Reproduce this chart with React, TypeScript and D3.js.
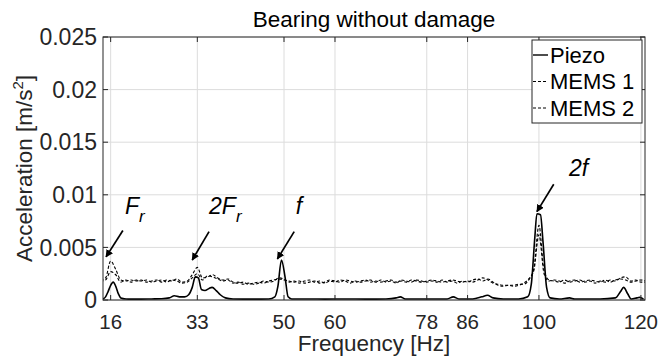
import React from "react";
import * as d3 from "d3";

const W = 662;
const H = 362;
const margin = { top: 37, right: 17, bottom: 62, left: 103 };

const xTicks = [16, 33, 50, 60, 78, 86, 100, 120];
const yTicks = [0, 0.005, 0.01, 0.015, 0.02, 0.025];
const yTickLabels = ["0", "0.005", "0.01", "0.015", "0.02", "0.025"];

// Piezo spectrum: [frequency Hz, acceleration m/s^2]
const piezo: [number, number][] = [
  [14.5, 0.0001], [15.0, 0.0003], [15.5, 0.0008], [16.0, 0.0014], [16.5, 0.0017],
  [17.0, 0.0013], [17.5, 0.0006], [18.0, 0.0002], [19, 0.0001], [20, 0.00008],
  [22, 0.00008], [24, 0.0001], [26, 0.00012], [27.5, 0.0002], [28.5, 0.0004],
  [29.5, 0.0003], [30.5, 0.0003], [31.3, 0.0005], [32.0, 0.0012], [32.6, 0.0022],
  [33.2, 0.0021], [33.8, 0.001], [34.5, 0.0009], [35.3, 0.0011], [35.9, 0.0012],
  [36.7, 0.0009], [37.5, 0.0005], [38.5, 0.0002], [40, 0.0001], [44, 0.00008],
  [47, 0.0001], [48.2, 0.0003], [48.8, 0.0013], [49.5, 0.0038], [50.2, 0.0022],
  [50.8, 0.0003], [51.5, 0.0001], [55, 0.0001], [58, 0.00008], [62, 0.0001],
  [66, 0.00008], [70, 0.0001], [72, 0.0002], [72.8, 0.0003], [73.8, 0.0001],
  [78, 0.0001], [82, 0.0001], [83.2, 0.0003], [84.3, 0.0001], [87, 0.0001],
  [88.8, 0.0003], [89.9, 0.00045], [91, 0.0002], [93, 0.0001], [96, 0.0001],
  [97.8, 0.0003], [98.5, 0.0015], [99.2, 0.006], [99.6, 0.0082], [100.3, 0.0081],
  [100.8, 0.0055], [101.5, 0.0012], [102.2, 0.0002], [104, 0.0001], [106, 0.0002],
  [107, 0.0001], [112, 0.0001], [115, 0.0002], [116, 0.0008], [116.6, 0.0012],
  [117.4, 0.0006], [118.1, 0.0001], [119.2, 0.0002], [119.7, 0.00025], [120.5, 0.0001],
];

// MEMS spectra, one value per Hz starting at 14 Hz
const memsStart = 14;
const mems1 = [
  0.0019, 0.0021, 0.0037, 0.0029, 0.0019, 0.0018, 0.0019, 0.0018, 0.0019, 0.0017,
  0.0018, 0.0019, 0.0017, 0.0019, 0.0018, 0.002, 0.0017, 0.0018, 0.0024, 0.0031,
  0.0021, 0.0022, 0.0024, 0.0021, 0.0019, 0.002, 0.0017, 0.0016, 0.0017, 0.0015,
  0.0016, 0.0017, 0.0016, 0.0018, 0.0019, 0.002, 0.0019, 0.0018, 0.0017, 0.0018,
  0.0016, 0.0017, 0.0018, 0.0016, 0.0017, 0.0019, 0.0018, 0.0017, 0.0019, 0.0018,
  0.0017, 0.0018, 0.0019, 0.0017, 0.0018, 0.0017, 0.0018, 0.0019, 0.0017, 0.0018,
  0.0017, 0.0019, 0.0018, 0.0017, 0.0018, 0.0019, 0.0018, 0.0017, 0.0018, 0.0019,
  0.0018, 0.0017, 0.0018, 0.0017, 0.0019, 0.0021, 0.0019, 0.0016, 0.0015, 0.0014,
  0.0014, 0.0014, 0.0015, 0.0015, 0.0019, 0.003, 0.0071, 0.0028, 0.0019, 0.0018,
  0.0017, 0.0019, 0.0017, 0.0018, 0.0019, 0.0017, 0.0018, 0.0016, 0.0018, 0.0017,
  0.0019, 0.0018, 0.0021, 0.0022, 0.0018, 0.0019, 0.0017, 0.0017,
];
const mems2 = [
  0.0018, 0.0019, 0.0027, 0.0024, 0.0017, 0.0019, 0.0017, 0.0019, 0.0018, 0.0019,
  0.0017, 0.0018, 0.0019, 0.0017, 0.0019, 0.0018, 0.0016, 0.0017, 0.0021, 0.0025,
  0.0019, 0.0023, 0.0022, 0.002, 0.0018, 0.0019, 0.0016, 0.0017, 0.0015, 0.0016,
  0.0015, 0.0016, 0.0018, 0.0017, 0.0018, 0.0021, 0.002, 0.0017, 0.0018, 0.0016,
  0.0018, 0.0019, 0.0017, 0.0018, 0.0016, 0.0018, 0.0017, 0.0019, 0.0018, 0.0016,
  0.0018, 0.0017, 0.0018, 0.0019, 0.0017, 0.0019, 0.0017, 0.0018, 0.0016, 0.0019,
  0.0018, 0.0017, 0.0019, 0.0018, 0.0017, 0.0018, 0.0017, 0.0019, 0.0017, 0.0018,
  0.0016, 0.0018, 0.0017, 0.0019, 0.002, 0.0018, 0.002, 0.0017, 0.0014, 0.0013,
  0.0014, 0.0013, 0.0014, 0.0016, 0.002, 0.0028, 0.0062, 0.0025, 0.0018, 0.0019,
  0.0018, 0.0016, 0.0018, 0.0019, 0.0017, 0.0018, 0.0019, 0.0018, 0.0017, 0.0019,
  0.0017, 0.0019, 0.002, 0.0019, 0.0017, 0.0018, 0.0019, 0.0018,
];

const seriesNames = ["Piezo", "MEMS 1", "MEMS 2"];

// annotations in data units: text anchor, arrow tail, arrow head
const annotations = [
  { main: "F", sub: "r", tx: 18.8, ty: 0.0082, tail: [18.4, 0.0066], head: [15.1, 0.0041] },
  { main: "2F", sub: "r", tx: 35.3, ty: 0.0082, tail: [35.3, 0.0065], head: [32.0, 0.0038] },
  { main: "f", sub: "", tx: 52.3, ty: 0.0082, tail: [52.0, 0.0065], head: [48.7, 0.0039] },
  { main: "2f", sub: "", tx: 105.9, ty: 0.0118, tail: [102.9, 0.011], head: [99.6, 0.0084] },
];

const FONT = "'Liberation Sans', Arial, Helvetica, sans-serif";
const AX = "#262626";
const DASH = "3,2";

export default function App() {
  const iw = W - margin.left - margin.right;
  const ih = H - margin.top - margin.bottom;
  const x = d3.scaleLinear().domain([14.5, 120.8]).range([0, iw]);
  const y = d3.scaleLinear().domain([0, 0.025]).range([ih, 0]);

  const line = d3
    .line<[number, number]>()
    .x((d) => x(d[0]))
    .y((d) => y(d[1]))
    .curve(d3.curveMonotoneX);

  const m1: [number, number][] = mems1.map((v, i) => [memsStart + i, v]);
  const m2: [number, number][] = mems2.map((v, i) => [memsStart + i, v]);

  const legendX = 532 - margin.left;
  const legendY = 40 - margin.top;

  return (
    <svg
      width={W}
      height={H}
      style={{ position: "absolute", left: 0, top: 0, background: "#fff" }}
      fontFamily={FONT}
    >
      <defs>
        <clipPath id="plot">
          <rect x={0} y={0} width={iw} height={ih} />
        </clipPath>
        <marker id="arrow" viewBox="0 0 10 10" refX={9} refY={5} markerWidth={4.5} markerHeight={4.5} orient="auto">
          <path d="M0,0 L10,5 L0,10 z" fill="#000" />
        </marker>
      </defs>
      <text x={margin.left + iw / 2} y={27} textAnchor="middle" fontSize={22.5} fill="#000">
        Bearing without damage
      </text>
      <g transform={`translate(${margin.left},${margin.top})`}>
        {/* grid */}
        {xTicks.map((t) => (
          <line key={"gx" + t} x1={x(t)} x2={x(t)} y1={0} y2={ih} stroke="#dcdcdc" strokeWidth={1} />
        ))}
        {yTicks.map((t) => (
          <line key={"gy" + t} x1={0} x2={iw} y1={y(t)} y2={y(t)} stroke="#dcdcdc" strokeWidth={1} />
        ))}
        {/* series */}
        <g clipPath="url(#plot)">
          <path d={line(m1) || ""} fill="none" stroke="#000" strokeWidth={1.1} strokeDasharray={DASH} />
          <path d={line(m2) || ""} fill="none" stroke="#000" strokeWidth={1.1} strokeDasharray={DASH} />
          <path d={line(piezo) || ""} fill="none" stroke="#000" strokeWidth={1.6} />
        </g>
        {/* box and ticks */}
        <rect x={0} y={0} width={iw} height={ih} fill="none" stroke={AX} strokeWidth={1} />
        {xTicks.map((t) => (
          <g key={"tx" + t}>
            <line x1={x(t)} x2={x(t)} y1={ih} y2={ih - 5} stroke={AX} />
            <line x1={x(t)} x2={x(t)} y1={0} y2={5} stroke={AX} />
            <text x={x(t)} y={ih + 29} textAnchor="middle" fontSize={20.5} fill={AX}>
              {t}
            </text>
          </g>
        ))}
        {yTicks.map((t, i) => (
          <g key={"ty" + t}>
            <line x1={0} x2={5} y1={y(t)} y2={y(t)} stroke={AX} />
            <line x1={iw} x2={iw - 5} y1={y(t)} y2={y(t)} stroke={AX} />
            <text x={-6} y={y(t)} dy="0.36em" textAnchor="end" fontSize={23} fill={AX}>
              {yTickLabels[i]}
            </text>
          </g>
        ))}
        {/* annotations */}
        {annotations.map((a) => (
          <g key={a.main}>
            <line
              x1={x(a.tail[0])}
              y1={y(a.tail[1])}
              x2={x(a.head[0])}
              y2={y(a.head[1])}
              stroke="#000"
              strokeWidth={1.7}
              markerEnd="url(#arrow)"
            />
            <text x={x(a.tx)} y={y(a.ty)} fontSize={23} fontStyle="italic" fill="#000">
              {a.main}
              {a.sub && (
                <tspan dy={8} fontSize={17}>
                  {a.sub}
                </tspan>
              )}
            </text>
          </g>
        ))}
        {/* legend */}
        <g transform={`translate(${legendX},${legendY})`}>
          <rect x={0} y={0} width={110} height={83} fill="#fff" stroke={AX} strokeWidth={1} />
          {seriesNames.map((name, i) => {
            const cy = 15 + i * 26.5;
            return (
              <g key={name}>
                <line
                  x1={1}
                  x2={16}
                  y1={cy}
                  y2={cy}
                  stroke="#000"
                  strokeWidth={i === 0 ? 1.4 : 1}
                  strokeDasharray={i === 0 ? undefined : DASH}
                />
                <text x={18} y={cy} dy="0.36em" fontSize={22} fill="#000">
                  {name}
                </text>
              </g>
            );
          })}
        </g>
      </g>
      <text x={margin.left + iw / 2} y={351} textAnchor="middle" fontSize={22.5} fill={AX}>
        Frequency [Hz]
      </text>
      <text
        transform={`translate(32,${margin.top + ih / 2}) rotate(-90)`}
        textAnchor="middle"
        fontSize={22.5}
        fill={AX}
      >
        Acceleration [m/s
        <tspan dy={-9} fontSize={15}>
          2
        </tspan>
        <tspan dy={9}>]</tspan>
      </text>
    </svg>
  );
}
